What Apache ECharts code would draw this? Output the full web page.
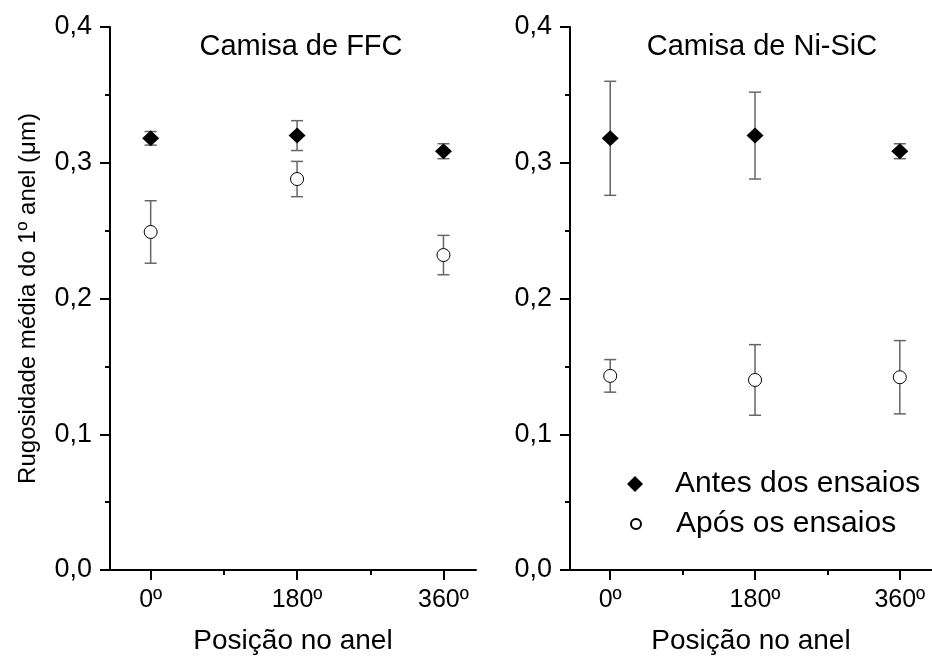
<!DOCTYPE html>
<html>
<head>
<meta charset="utf-8">
<script src="https://cdn.jsdelivr.net/npm/echarts@6/dist/echarts.min.js"></script>
<style>
  html, body { margin: 0; padding: 0; background: #fff; }
  #chart { width: 932px; height: 662px; }
</style>
</head>
<body>
<div id="chart"></div>
<script>
// positions along the ring (degrees)
const positions = [0, 180, 360]
const xTickValues = [0, 180, 360]
const xMinorValues = [90, 270]

// Camisa de FFC
const ffcAntes = [0.318, 0.320, 0.3085]
const ffcAntesErr = [0.005, 0.011, 0.0055]
const ffcApos = [0.249, 0.288, 0.232]
const ffcAposErr = [0.023, 0.013, 0.0145]

// Camisa de Ni-SiC
const nisicAntes = [0.318, 0.320, 0.3085]
const nisicAntesErr = [0.042, 0.032, 0.0055]
const nisicApos = [0.143, 0.140, 0.142]
const nisicAposErr = [0.012, 0.026, 0.027]

const panelTitles = ['Camisa de FFC', 'Camisa de Ni-SiC']
const seriesNames = ['Antes dos ensaios', 'Após os ensaios']

const font = 'Arial, "Liberation Sans", sans-serif'
const black = '#000'
const barColor = '#666'

function points(vals) {
  return positions.map((p, i) => [p, vals[i]])
}
function bars(vals, errs) {
  return positions.map((p, i) => [p, vals[i] - errs[i], vals[i] + errs[i]])
}

// vertical error bar with caps
function renderErrorBar(params, api) {
  const x = api.value(0)
  const top = api.coord([x, api.value(2)])
  const bot = api.coord([x, api.value(1)])
  const half = 6
  const style = { stroke: barColor, lineWidth: 1.5 }
  return {
    type: 'group',
    children: [
      { type: 'line', shape: { x1: top[0], y1: top[1], x2: bot[0], y2: bot[1] }, style },
      { type: 'line', shape: { x1: top[0] - half, y1: top[1], x2: top[0] + half, y2: top[1] }, style },
      { type: 'line', shape: { x1: bot[0] - half, y1: bot[1], x2: bot[0] + half, y2: bot[1] }, style },
    ],
  }
}

function mainXAxis(gridIndex) {
  return {
    type: 'value',
    gridIndex: gridIndex,
    min: -50,
    max: 400,
    name: 'Posição no anel',
    nameLocation: 'middle',
    nameGap: 57,
    nameTextStyle: { fontFamily: font, fontSize: 28, color: black },
    axisLine: { onZero: false, lineStyle: { color: black, width: 2 } },
    axisTick: { customValues: xTickValues, length: 10, lineStyle: { color: black, width: 2 } },
    axisLabel: {
      customValues: xTickValues,
      margin: 18,
      fontFamily: font,
      fontSize: 25,
      color: black,
      formatter: v => v + 'º',
    },
    splitLine: { show: false },
  }
}

function minorXAxis(gridIndex) {
  return {
    type: 'value',
    gridIndex: gridIndex,
    min: -50,
    max: 400,
    position: 'bottom',
    axisLine: { show: false, onZero: false },
    axisTick: { customValues: xMinorValues, length: 5, lineStyle: { color: black, width: 2 } },
    axisLabel: { show: false },
    splitLine: { show: false },
  }
}

function yAxis(gridIndex, withName) {
  return {
    type: 'value',
    gridIndex: gridIndex,
    min: 0,
    max: 0.4,
    interval: 0.1,
    name: withName ? 'Rugosidade média do 1º anel (μm)' : '',
    nameLocation: 'middle',
    nameGap: 70,
    nameTextStyle: { fontFamily: font, fontSize: 24, color: black },
    axisLine: { show: true, onZero: false, lineStyle: { color: black, width: 2 } },
    axisTick: { show: true, length: 10, lineStyle: { color: black, width: 2 } },
    minorTick: { show: true, splitNumber: 2, length: 5, lineStyle: { color: black, width: 2 } },
    axisLabel: {
      margin: 18,
      fontFamily: font,
      fontSize: 27,
      color: black,
      formatter: v => v.toFixed(1).replace('.', ','),
    },
    splitLine: { show: false },
  }
}

function panelSeries(gridIndex, antes, antesErr, apos, aposErr) {
  const xi = gridIndex * 2
  return [
    {
      type: 'custom', xAxisIndex: xi, yAxisIndex: gridIndex, z: 1, silent: true,
      renderItem: renderErrorBar, data: bars(antes, antesErr),
    },
    {
      type: 'custom', xAxisIndex: xi, yAxisIndex: gridIndex, z: 1, silent: true,
      renderItem: renderErrorBar, data: bars(apos, aposErr),
    },
    {
      name: seriesNames[0], type: 'scatter', xAxisIndex: xi, yAxisIndex: gridIndex, z: 3,
      symbol: 'diamond', symbolSize: [17, 16],
      itemStyle: { color: black, opacity: 1 },
      data: points(antes),
    },
    {
      name: seriesNames[1], type: 'scatter', xAxisIndex: xi, yAxisIndex: gridIndex, z: 3,
      symbol: 'circle', symbolSize: 13,
      itemStyle: { color: '#fff', borderColor: black, borderWidth: 1, opacity: 1 },
      data: points(apos),
    },
  ]
}

const chart = echarts.init(document.getElementById('chart'), null, { renderer: 'canvas' })

const option = {
  backgroundColor: '#fff',
  animation: false,
  title: [
    { text: panelTitles[0], left: 296, top: 27, textAlign: 'center',
      textStyle: { fontFamily: font, fontSize: 29, fontWeight: 'normal', color: black } },
    { text: panelTitles[1], left: 757, top: 27, textAlign: 'center',
      textStyle: { fontFamily: font, fontSize: 29, fontWeight: 'normal', color: black } },
  ],
  legend: [
    {
      data: [seriesNames[0]], left: 627, top: 469, padding: 0,
      itemWidth: 16, itemHeight: 16,
      textStyle: { fontFamily: font, fontSize: 30, color: black, padding: [0, 0, 0, 27] },
    },
    {
      data: [seriesNames[1]], left: 630, top: 509, padding: 0,
      itemWidth: 10, itemHeight: 10,
      textStyle: { fontFamily: font, fontSize: 30, color: black, padding: [0, 0, 0, 30] },
    },
  ],
  grid: [
    { left: 110, top: 27, width: 366, height: 543 },
    { left: 570, top: 27, width: 362, height: 543 },
  ],
  xAxis: [mainXAxis(0), minorXAxis(0), mainXAxis(1), minorXAxis(1)],
  yAxis: [yAxis(0, true), yAxis(1, false)],
  series: [
    ...panelSeries(0, ffcAntes, ffcAntesErr, ffcApos, ffcAposErr),
    ...panelSeries(1, nisicAntes, nisicAntesErr, nisicApos, nisicAposErr),
  ],
}

chart.setOption(option)
</script>
</body>
</html>
